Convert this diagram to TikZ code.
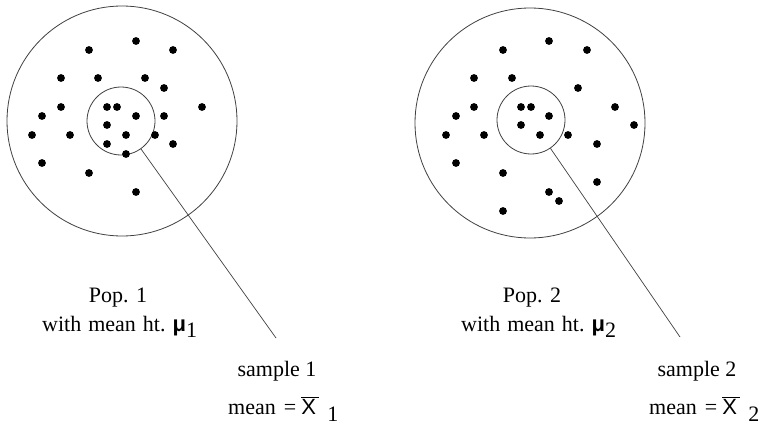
\documentclass[tikz,border=0pt]{standalone}
\usepackage{fontspec}
\setmainfont{Liberation Serif}
\newfontfamily\sansf{Liberation Sans}
\newcommand{\mumark}[1]{\hspace{7pt}{\sansf\bfseries μ}\raisebox{-6pt}{#1}}
\newcommand{\xbarmark}[1]{\hspace{8pt}=\hspace{5pt}{\sansf$\overline{\mbox{X}\,}$}\hspace{8pt}\raisebox{-7pt}{#1}}
\newcommand{\withline}{with\hspace{7pt}mean\hspace{7pt}ht.}
\begin{document}
\begin{tikzpicture}[x=1pt,y=-1pt,
  ring/.style={circle,draw=black!75,line width=0.8pt,inner sep=0pt},
  lead/.style={draw=black!75,line width=0.7pt},
  dot/.style={fill=black},
  lbl/.style={inner sep=0pt,font=\fontsize{22}{26}\selectfont,anchor=base},
  lblw/.style={lbl,anchor=base west}]
\useasboundingbox (0,0) rectangle (759,425);
% population 1
\node[ring,minimum size=230] (pop1) at (122,121) {};
\node[ring,minimum size=68] (s1) at (121,121) {};
\foreach \x/\y in {136/41,89/50,173/50,61/78,98/78,145/78,164/88,61/107,107/107,117/107,202/107,42/116,136/116,164/116,107/125,32/135,70/135,126/135,155/135,173/144,107/144,42/163,126/154,89/173,136/192}
  \fill[dot] (\x,\y) circle (3.9);
% population 2
\node[ring,minimum size=230] (pop2) at (530,123) {};
\node[ring,minimum size=68] (s2) at (531,120) {};
\foreach \x/\y in {549/41,503/50,587/50,474/78,512/78,578/88,474/107,521/107,531/107,615/107,456/116,549/116,521/125,634/125,446/135,484/135,540/135,568/135,597/144,456/163,503/173,597/182,549/192,559/201,503/211}
  \fill[dot] (\x,\y) circle (3.9);
% leaders
\coordinate (e1) at (276,338);
\coordinate (e2) at (680,337);
\draw[lead] (s1) -- (e1);
\draw[lead] (s2) -- (e2);
% labels
\node[lbl] (t1) at (118,302) {Pop. 1};
\node[lblw] (m1) at (42,331) {\withline\mumark{1}};
\node[lbl] (u1) at (277,376) {sample 1};
\node[lblw] (x1) at (228,414) {mean\xbarmark{1}};
\node[lbl] (t2) at (532,302) {Pop. 2};
\node[lblw] (m2) at (461,331) {\withline\mumark{2}};
\node[lbl] (u2) at (697,376) {sample 2};
\node[lblw] (x2) at (649,414) {mean\xbarmark{2}};
\end{tikzpicture}
\end{document}
